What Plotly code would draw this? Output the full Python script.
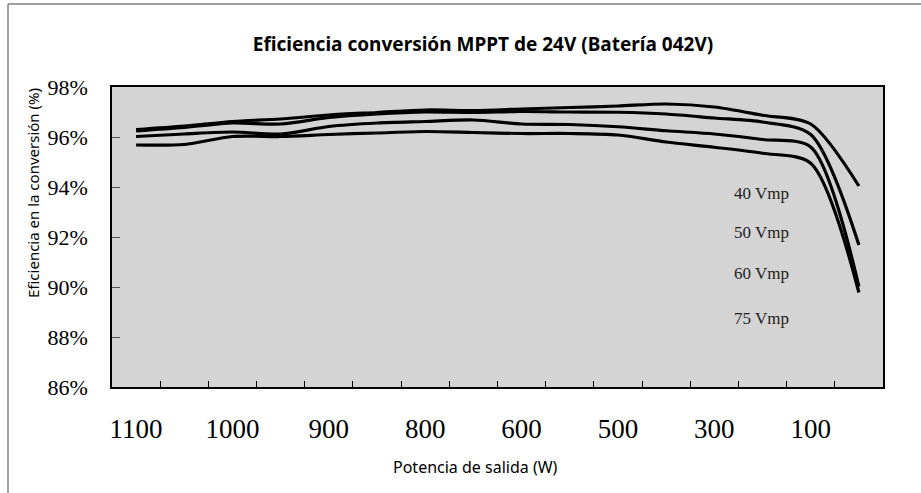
import plotly.graph_objects as go

# ---- data ----
power_labels = ["1100", "1000", "900", "800", "600", "500", "300", "100"]
n_points = 16  # measurement points, labelled every other one

eff_40 = [96.30, 96.44, 96.62, 96.72, 96.88, 96.98, 97.08, 97.06,
          97.12, 97.18, 97.24, 97.32, 97.20, 96.87, 96.52, 94.04]
eff_50 = [96.24, 96.38, 96.56, 96.52, 96.78, 96.92, 97.00, 96.98,
          97.02, 97.00, 96.99, 96.92, 96.76, 96.60, 96.10, 91.68]
eff_60 = [96.02, 96.12, 96.20, 96.12, 96.42, 96.56, 96.62, 96.68,
          96.52, 96.50, 96.41, 96.25, 96.12, 95.90, 95.60, 90.02]
eff_75 = [95.68, 95.70, 96.02, 96.02, 96.10, 96.16, 96.22, 96.18,
          96.14, 96.14, 96.08, 95.80, 95.59, 95.35, 94.95, 89.78]

series_names = ["40 Vmp", "50 Vmp", "60 Vmp", "75 Vmp"]
series_values = [eff_40, eff_50, eff_60, eff_75]
label_levels = [93.75, 92.2, 90.55, 88.75]

y_ticks = [86, 88, 90, 92, 94, 96, 98]

idx = list(range(n_points))

fig = go.Figure()
for name, vals in zip(series_names, series_values):
    fig.add_trace(go.Scatter(
        x=idx, y=vals, mode="lines", name=name,
        line=dict(color="black", width=3.2, shape="spline", smoothing=0.8),
        showlegend=False, hoverinfo="skip",
    ))

# plot area in pixels: x 112..883, y 87..387
L, R, T, B = 112, 38, 87, 106
W, H = 921, 493
pw, ph = W - L - R, H - T - B

def px_x(p):
    return (p - L) / pw

def px_y(p):
    return (H - B - p) / ph

annotations = []
for name, lvl in zip(series_names, label_levels):
    annotations.append(dict(
        x=12.97, y=lvl, xref="x", yref="y", text=name, showarrow=False,
        font=dict(family="Liberation Serif", size=17, color="#222"),
        xanchor="center", yanchor="middle",
    ))
annotations.append(dict(
    x=px_x(33), y=px_y(193), xref="paper", yref="paper",
    text="Eficiencia en la conversión (%)", textangle=-90, showarrow=False,
    font=dict(family="Noto Sans", size=15, color="black"),
    xanchor="center", yanchor="middle",
))
annotations.append(dict(
    x=px_x(475), y=px_y(467), xref="paper", yref="paper",
    text="Potencia de salida (W)", showarrow=False,
    font=dict(family="Noto Sans", size=16, color="black"),
    xanchor="center", yanchor="middle",
))

shapes = [
    dict(type="line", xref="paper", yref="paper",
         x0=px_x(8), y0=px_y(4), x1=px_x(8), y1=px_y(H + 5),
         line=dict(color="#808080", width=1.5)),
    dict(type="line", xref="paper", yref="paper",
         x0=px_x(8), y0=px_y(4), x1=px_x(W + 5), y1=px_y(4),
         line=dict(color="#808080", width=1.5)),
]

fig.update_layout(
    width=W, height=H,
    margin=dict(l=L, r=R, t=T, b=B, autoexpand=False),
    paper_bgcolor="white", plot_bgcolor="#d4d4d4",
    title=dict(
        text="<b>Eficiencia conversión MPPT de 24V (Batería 042V)</b>",
        x=483 / W, xanchor="center", y=1 - 44 / H, yanchor="middle",
        font=dict(family="Noto Sans", size=19, color="black"),
    ),
    annotations=annotations,
    shapes=shapes,
    xaxis=dict(
        range=[-0.5, n_points - 0.5], automargin=False,
        tickmode="array",
        tickvals=idx[::2], ticktext=power_labels,
        ticks="", showgrid=False, zeroline=False,
        showline=True, mirror=True, linecolor="black", linewidth=1.5,
        tickfont=dict(family="Liberation Serif", size=27, color="black"),
        ticklabelstandoff=17,
        minor=dict(tickmode="array", tickvals=[i + 0.5 for i in idx[:-1]],
                   ticks="inside", ticklen=6, tickcolor="black", tickwidth=1,
                   showgrid=False),
    ),
    yaxis=dict(
        range=[86, 98], automargin=False,
        tickmode="array", tickvals=y_ticks, ticktext=[f"{v}%" for v in y_ticks],
        ticks="inside", ticklen=8, tickcolor="#555", tickwidth=1,
        showgrid=False, zeroline=False,
        showline=True, mirror=True, linecolor="black", linewidth=1.5,
        tickfont=dict(family="Liberation Serif", size=22, color="black"),
        ticklabelstandoff=18,
    ),
)

fig.write_html(
    "out.html",
    config={"displayModeBar": False},
    post_script="document.body.style.margin='0';document.body.style.overflow='hidden';",
)
